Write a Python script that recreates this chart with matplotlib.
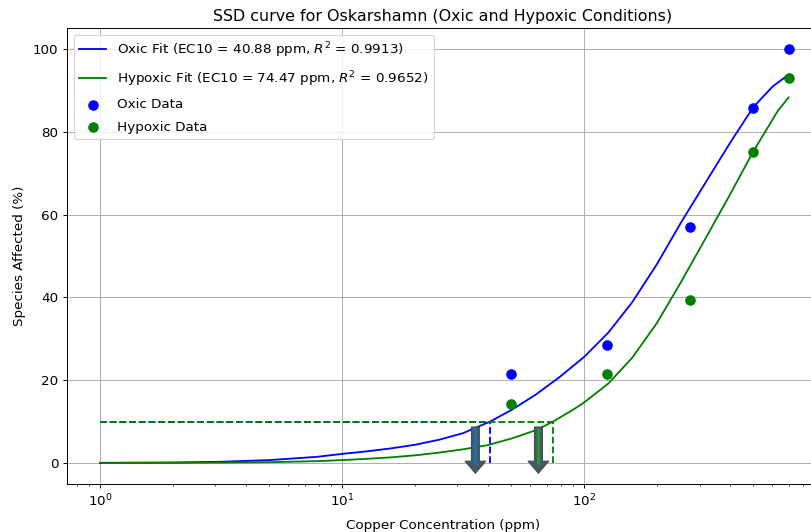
import matplotlib
matplotlib.use('Agg')
import matplotlib.pyplot as plt

# measured data points
concentracao = [50, 125, 275, 500, 700]
oxico = [21.4, 28.6, 57.1, 85.7, 100.0]
hipoxico = [14.3, 21.4, 39.3, 75.0, 92.9]

# fitted curves
x_fit_oxico = [1, 2.0, 3.16, 5.0, 7.9, 10, 12.6, 15.8, 20, 25.1, 31.6, 40.88,
               50.1, 63.1, 79.4, 100, 126, 158, 200, 251, 316, 398, 501, 603, 700]
y_fit_oxico = [0.05, 0.12, 0.3, 0.7, 1.5, 2.2, 2.8, 3.5, 4.4, 5.6, 7.2, 10.0,
               12.8, 16.5, 20.8, 25.6, 31.5, 38.8, 48.0, 58.0, 67.5, 77.0, 86.0, 91.0, 93.8]
x_fit_hipoxico = [1, 2.0, 3.16, 5.0, 7.9, 10, 12.6, 15.8, 20, 25.1, 31.6, 39.8,
                  50.1, 63.1, 74.47, 89.1, 100, 126, 158, 200, 251, 316, 398,
                  501, 631, 700]
y_fit_hipoxico = [0.0, 0.05, 0.1, 0.2, 0.45, 0.7, 1.0, 1.35, 1.85, 2.5, 3.3, 4.3,
                  5.9, 7.9, 10.0, 12.7, 14.6, 19.2, 25.4, 33.8, 43.6, 54.0, 64.5,
                  75.3, 85.0, 88.3]

ec10 = [40.88, 74.47]
r2 = [0.9913, 0.9652]
cores = ['blue', 'green']
cores_seta = ['#1f6fb5', '#2a9a2a']

plt.rcParams['font.size'] = 11

fig = plt.figure(figsize=(811 / 88, 532 / 88), dpi=88)
ax = fig.add_axes([67 / 811, 1 - 484 / 532, 752 / 811, 456 / 532])

ax.plot(x_fit_oxico, y_fit_oxico, color=cores[0], lw=1.5,
        label=f'Oxic Fit (EC10 = {ec10[0]:.2f} ppm, $R^2$ = {r2[0]:.4f})')
ax.plot(x_fit_hipoxico, y_fit_hipoxico, color=cores[1], lw=1.5,
        label=f'Hypoxic Fit (EC10 = {ec10[1]:.2f} ppm, $R^2$ = {r2[1]:.4f})')
ax.scatter(concentracao, oxico, color=cores[0], s=58, label='Oxic Data', zorder=3)
ax.scatter(concentracao, hipoxico, color=cores[1], s=58, label='Hypoxic Data', zorder=3)

#linhas tracejadas do EC10 e setas
for ec, cor, cor_seta in zip(ec10, cores, cores_seta):
    ax.hlines(10, 1, ec, colors=cor, linestyles='--', lw=1.5)
    ax.vlines(ec, 0, 10, colors=cor, linestyles='--', lw=1.5)
    xs = ec * 0.87
    ax.annotate('', xy=(xs, -2.5), xytext=(xs, 8.7),
                arrowprops=dict(facecolor='#455a64', edgecolor='#37474f', lw=0.8,
                                width=6.5, headwidth=17, headlength=10, shrink=0),
                zorder=4)
    ax.plot([xs, xs], [8.5, -0.2], color=cor_seta, lw=2.3,
            solid_capstyle='butt', zorder=5)

ax.set_xscale('log')
ax.set_xlim(0.7307, 935)
ax.set_ylim(-5.07, 105.07)
ax.set_yticks([0, 20, 40, 60, 80, 100])
ax.grid(True)
ax.set_title('SSD curve for Oskarshamn (Oxic and Hypoxic Conditions)', fontsize=13)
ax.set_xlabel('Copper Concentration (ppm)', labelpad=8)
ax.set_ylabel('Species Affected (%)', labelpad=6)
ax.legend(loc='upper left', labelspacing=0.7)

fig.savefig('out.png', dpi=88)
